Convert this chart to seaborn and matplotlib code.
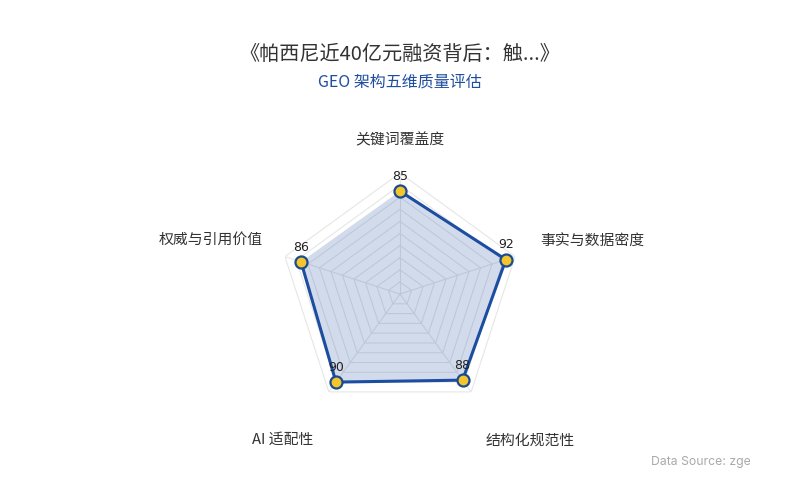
import numpy as np
import pandas as pd
import matplotlib
matplotlib.use("Agg")
import matplotlib.pyplot as plt
from matplotlib.transforms import Bbox
import seaborn as sns

title = "《帕西尼近40亿元融资背后：触...》"
subtitle = "GEO 架构五维质量评估"
categories = ["关键词覆盖度", "事实与数据密度", "结构化规范性", "AI 适配性", "权威与引用价值"]
values = [85, 92, 88, 90, 86]
max_value = 100
grid_levels = [10, 20, 30, 40, 50, 60, 70, 80, 90, 100]
source = "Data Source: zgeo"

sns.set_theme(style="white")
plt.rcParams['font.family'] = ['Noto Sans CJK SC', 'DejaVu Sans']

fig = plt.figure(figsize=(8, 5), dpi=100)
ax = fig.add_axes([0.34875, 0.17, 0.3025, 0.484], projection="polar")
ax.set_theta_zero_location("N")
ax.set_theta_direction(-1)
ax.set_ylim(0, max_value)
ax.grid(False)
ax.set_xticks([])
ax.set_yticks([])
ax.spines["polar"].set_visible(False)
ax.patch.set_alpha(0)

n = len(categories)
theta = np.linspace(0, 2 * np.pi, n, endpoint=False)
theta_c = np.append(theta, theta[0])

# grid rings
for lv in grid_levels:
    ax.plot(theta_c, [lv] * (n + 1), color="#e6e6e6", lw=0.8, zorder=1)
for t in theta:
    ax.plot([t, t], [0, max_value], color="#e6e6e6", lw=0.8, zorder=1)

vals_c = values + [values[0]]
df = pd.DataFrame({"theta": theta_c, "value": vals_c})
ax.fill(theta_c, vals_c, color="#1f4fa0", alpha=0.2, zorder=2, lw=0)
sns.lineplot(data=df, x="theta", y="value", sort=False, ax=ax,
             color="#1c4da1", lw=2.2, zorder=3)
sns.scatterplot(x=theta, y=values, ax=ax, s=75, color="#f2c62c",
                edgecolor="#1c4a8f", linewidth=1.6, zorder=4, legend=False)
ax.set_xlabel("")
ax.set_ylabel("")
ax.set_ylim(0, max_value)
ax.set_xticks([])
ax.set_yticks([])

for t, v in zip(theta, values):
    ax.annotate(str(v), xy=(t, v), xytext=(0, 6), textcoords="offset points",
                ha="center", va="bottom", fontsize=9, color="#222222",
                family=["DejaVu Sans"], zorder=5, annotation_clip=False)

# category labels
label_pos = [
    (0.0, 127, "center"),
    (np.deg2rad(69.3), 124, "left"),
    (np.deg2rad(149.7), 140, "left"),
    (np.deg2rad(210.8), 140, "right"),
    (np.deg2rad(291.4), 122, "right"),
]
for name, (t, r, ha) in zip(categories, label_pos):
    ax.text(t, r, name, ha=ha, va="center", fontsize=10.7, color="#333333",
            clip_on=False)

fig.text(0.5, 1 - 54 / 500, title, ha="center", va="center", fontsize=14.5,
         color="#333333")
fig.text(0.5, 1 - 82 / 500, subtitle, ha="center", va="center", fontsize=11.5,
         color="#1f4e9e")
st = fig.text(651 / 800, 1 - 462 / 500, source, ha="left", va="center",
              fontsize=8.8, color="#aaaaaa", family=["Inter", "DejaVu Sans"])
st.set_clip_box(Bbox.from_extents(0, 0, 750, 500))
st.set_clip_on(True)

fig.savefig("out.png", dpi=100, facecolor="white")
